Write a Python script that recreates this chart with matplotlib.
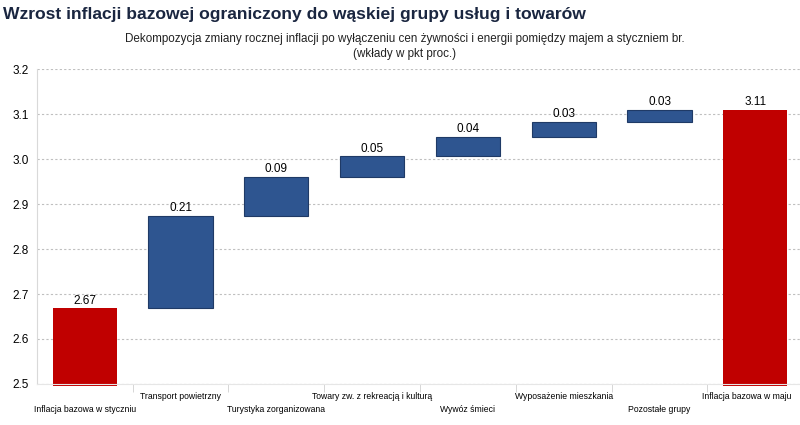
import matplotlib.pyplot as plt
from matplotlib.transforms import ScaledTranslation

categories = [
    "Inflacja bazowa w styczniu",
    "Transport powietrzny",
    "Turystyka zorganizowana",
    "Towary zw. z rekreacją i kulturą",
    "Wywóz śmieci",
    "Wyposażenie mieszkania",
    "Pozostałe grupy",
    "Inflacja bazowa w maju",
]
start_value = 2.668
contributions = [0.206, 0.086, 0.046, 0.043, 0.034, 0.026]
end_value = 3.109

RED = "#C00000"
BLUE = "#2E5590"
BLUE_EDGE = "#1F3A66"
NAVY = "#1A2640"
GRID = "#BFBFBF"

plt.rcParams["font.family"] = ["Liberation Sans", "DejaVu Sans"]

fig = plt.figure(figsize=(8, 4.25), dpi=100)
ax = fig.add_axes([0.046, 0.0965, 0.958, 0.741])

ymin = 2.5
x = list(range(len(categories)))
width = 0.67

# first and last bars from the axis floor (a touch below it, like the original)
ax.bar(x[0], start_value - ymin + 0.004, bottom=ymin - 0.004, width=width, color=RED,
       zorder=3, clip_on=False)
ax.text(x[0], start_value + 0.004, f"{start_value:.2f}", ha="center", va="bottom", fontsize=8.5)

level = start_value
for i, c in enumerate(contributions, start=1):
    ax.bar(x[i], c, bottom=level, width=width, color=BLUE, edgecolor=BLUE_EDGE,
           linewidth=0.8, zorder=3)
    level += c
    ax.text(x[i], level + 0.004, f"{c:.2f}", ha="center", va="bottom", fontsize=8.5)

ax.bar(x[-1], end_value - ymin + 0.004, bottom=ymin - 0.004, width=width, color=RED,
       zorder=3, clip_on=False)
ax.text(x[-1], end_value + 0.004, f"{end_value:.2f}", ha="center", va="bottom", fontsize=8.5)

ax.set_xlim(-0.5, len(categories) - 0.5)
ax.set_ylim(ymin, 3.2)
ax.set_yticks([2.5, 2.6, 2.7, 2.8, 2.9, 3.0, 3.1, 3.2])
ax.set_yticklabels([f"{v:.1f}" for v in ax.get_yticks()], fontsize=8.5)
ax.yaxis.grid(True, linestyle=(0, (2, 2)), color=GRID, linewidth=0.8, zorder=0)
ax.tick_params(axis="y", length=0, pad=6)

ax.set_xticks(x)
ax.set_xticklabels(categories, fontsize=6.2)
ax.tick_params(axis="x", which="major", length=0)
for i, t in enumerate(ax.xaxis.get_major_ticks()):
    t.set_pad(15 if i % 2 == 0 else 6)
last = ax.get_xticklabels()[-1]
last.set_transform(last.get_transform() + ScaledTranslation(-6 / 72, 0, fig.dpi_scale_trans))
ax.set_xticks([i + 0.5 for i in range(len(categories) - 1)], minor=True)
ax.tick_params(axis="x", which="minor", length=6, color="#D0D0D0")

for side in ["top", "right"]:
    ax.spines[side].set_visible(False)
ax.spines["left"].set_color("#D9D9D9")
ax.spines["bottom"].set_color("#E6E6E6")
ax.spines["bottom"].set_zorder(5)

fig.text(0.004, 0.967, "Wzrost inflacji bazowej ograniczony do wąskiej grupy usług i towarów",
         fontsize=12.6, fontweight="bold", color=NAVY, ha="left", va="center")
fig.text(0.506, 0.89,
         "Dekompozycja zmiany rocznej inflacji po wyłączeniu cen żywności i energii pomiędzy majem a styczniem br.\n(wkłady w pkt proc.)",
         fontsize=8.4, ha="center", va="center", linespacing=1.35, color="#222222")

fig.savefig("out.png", dpi=100)
